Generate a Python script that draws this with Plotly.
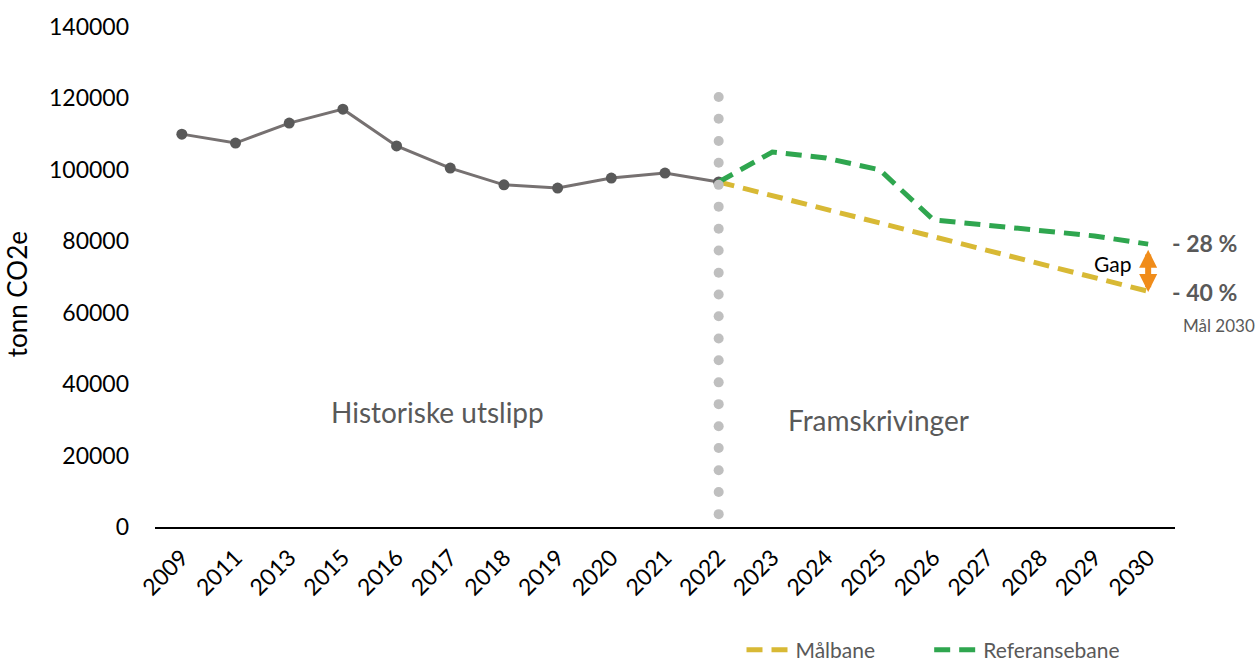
import plotly.graph_objects as go

years = ["2009", "2011", "2013", "2015", "2016", "2017", "2018", "2019", "2020", "2021", "2022",
         "2023", "2024", "2025", "2026", "2027", "2028", "2029", "2030"]
hist_years = years[:11]
hist_vals = [110000, 107500, 113100, 117000, 106700, 100500, 95800, 94900, 97700, 99100, 96600]
proj_years = years[10:]
ref_vals = [96600, 105000, 103300, 100000, 86000, 84600, 83200, 81500, 79200]
target_vals = [96600, 92800, 89000, 85100, 81300, 77500, 73700, 69800, 66000]
divider_year = "2022"
divider_y = [3600, 9800, 15900, 22100, 28200, 34400, 40500, 46700, 52800, 59000,
             65100, 71200, 77400, 83500, 89700, 95800, 102000, 108100, 114300, 120400]
y_ticks = [0, 20000, 40000, 60000, 80000, 100000, 120000, 140000]
gap_top, gap_bottom = 77600, 65800

FONT = "Lato"
GRAY_TXT = "#595959"
GREEN = "#2fa64f"
YELLOW = "#d8b935"
ORANGE = "#f08c1a"

fig = go.Figure()
fig.add_trace(go.Scatter(x=hist_years, y=hist_vals, mode="lines+markers",
                         line=dict(color="#767171", width=3),
                         marker=dict(color="#595959", size=11),
                         showlegend=False, hoverinfo="skip"))
fig.add_trace(go.Scatter(x=proj_years, y=target_vals, mode="lines", name="Målbane",
                         legend="legend",
                         line=dict(color=YELLOW, width=5, dash="16px,9px")))
fig.add_trace(go.Scatter(x=proj_years, y=ref_vals, mode="lines", name="Referansebane",
                         legend="legend2",
                         line=dict(color=GREEN, width=5, dash="16px,9px")))
fig.add_trace(go.Scatter(x=[divider_year] * len(divider_y), y=divider_y, mode="markers",
                         marker=dict(color="#bfbfbf", size=10),
                         showlegend=False, hoverinfo="skip"))

# Gap double arrow (category index of 2030)
gap_x = years.index("2030")
fig.add_annotation(x=gap_x, y=gap_bottom, ax=gap_x, ay=gap_top,
                   xref="x", yref="y", axref="x", ayref="y",
                   text="", font=dict(size=1), borderpad=0, borderwidth=0,
                   showarrow=True, arrowhead=2, arrowside="end+start",
                   arrowsize=0.6, arrowwidth=6, arrowcolor=ORANGE)

ann = [
    dict(text="Historiske utslipp", x=0.2765, y=0.23, size=28, color=GRAY_TXT, xanchor="center"),
    dict(text="Framskrivinger", x=0.709, y=0.214, size=28, color=GRAY_TXT, xanchor="center"),
    dict(text="<b>- 28 %</b>", x=0.995, y=0.568, size=23, color=GRAY_TXT, xanchor="left"),
    dict(text="<b>- 40 %</b>", x=0.995, y=0.47, size=23, color=GRAY_TXT, xanchor="left"),
    dict(text="Mål 2030", x=1.006, y=0.404, size=17, color=GRAY_TXT, xanchor="left"),
    dict(text="Gap", x=0.939, y=0.528, size=21, color="#000000", xanchor="center"),
]
for a in ann:
    fig.add_annotation(text=a["text"], x=a["x"], y=a["y"], xref="paper", yref="paper",
                       xanchor=a["xanchor"], yanchor="middle", showarrow=False,
                       font=dict(family=FONT, size=a["size"], color=a["color"]))

fig.add_annotation(text="tonn CO2e", x=-0.135, y=0.466, xref="paper", yref="paper",
                   textangle=-90, showarrow=False, xanchor="center", yanchor="middle",
                   font=dict(family=FONT, size=26, color="#000000"))

legend_style = dict(orientation="h", y=-0.246, xanchor="left", yanchor="middle",
                    font=dict(family=FONT, size=21, color=GRAY_TXT), itemwidth=44,
                    bgcolor="rgba(0,0,0,0)")

fig.update_layout(
    width=1260, height=662,
    margin=dict(l=155, r=85, t=27, b=135, autoexpand=False),
    paper_bgcolor="white", plot_bgcolor="white",
    font=dict(family=FONT, color="#000000"),
    xaxis=dict(type="category", categoryorder="array", categoryarray=years,
               range=[-0.5, 18.5], showgrid=False, zeroline=False, automargin=False,
               showline=True, linecolor="#000000", linewidth=2,
               ticks="", tickangle=-45, ticklabelstandoff=6,
               tickfont=dict(size=23, family=FONT, color="#000000")),
    yaxis=dict(range=[0, 140000], tickvals=y_ticks, ticktext=[str(v) for v in y_ticks],
               showgrid=False, zeroline=False, showline=False, ticks="", automargin=False,
               ticklabelstandoff=25,
               tickfont=dict(size=23, family=FONT, color="#000000")),
    legend=dict(x=0.575, **legend_style),
    legend2=dict(x=0.759, **legend_style),
)

fig.write_html("out.html", post_script="document.body.style.margin='0';",
               config={"displayModeBar": False})
